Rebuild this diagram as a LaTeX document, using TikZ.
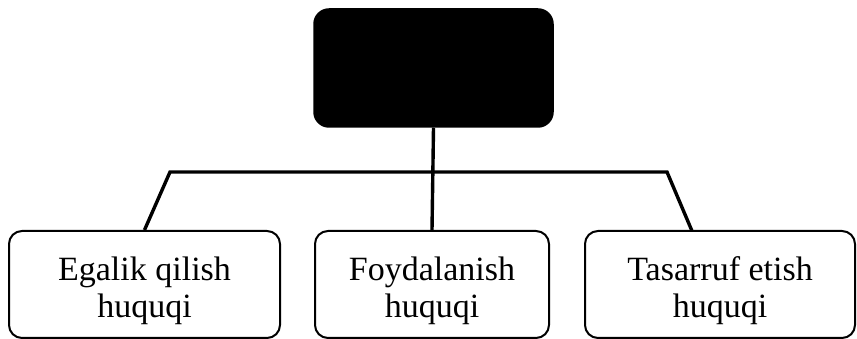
\documentclass[tikz,border=0pt]{standalone}
\usepackage{fontspec}
\setmainfont{Liberation Serif}
\usepackage{tikz}
\usetikzlibrary{positioning}
\newcommand{\hstrut}{\rule{0pt}{36pt}}

\begin{document}
\begin{tikzpicture}[x=1pt,y=1pt,
    huquq/.style={draw, line width=2pt, rounded corners=13pt, align=center,
        minimum height=107pt, inner sep=0pt,
        font=\fontsize{34}{37}\selectfont},
    conn/.style={line width=3.4pt}]
                \useasboundingbox (0,0) rectangle (857,339);
                \node[fill=black, draw, line width=1.5pt, rounded corners=15pt,
                    minimum width=239pt, minimum height=118pt] (top) at (433.5,271) {};
                \node[huquq, minimum width=271pt] (egalik) at (144.5,54.5) {\hstrut Egalik qilish\\huquqi};
                \node[huquq, minimum width=234pt] (foyda) at (432,54.5) {\hstrut Foydalanish\\huquqi};
                \node[huquq, minimum width=270pt] (tasarruf) at (720,54.5) {\hstrut Tasarruf etish\\huquqi};
                \coordinate (hl) at (170,167);
                \coordinate (hr) at (667,167);
                \coordinate (rfoot) at (692,108);
                \draw[conn] (top.south) -- (foyda.north);
                \draw[conn, line join=miter] (egalik.north) -- (hl) -- (hr) -- (rfoot);
            \end{tikzpicture}
\end{document}
